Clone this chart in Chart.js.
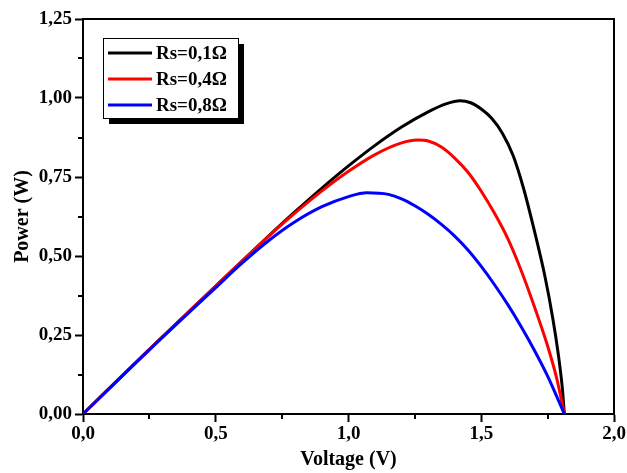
<!DOCTYPE html>
<html>
<head>
<meta charset="utf-8">
<script src="https://cdn.jsdelivr.net/npm/chart.js@4/dist/chart.umd.min.js"></script>
<style>
  html, body { margin: 0; padding: 0; background: #fff; }
  #wrap { width: 627px; height: 473px; }
</style>
</head>
<body>
<div id="wrap"><canvas id="c" width="627" height="473"></canvas></div>
<script>
// data
const labels = ['Rs=0,1\u03A9', 'Rs=0,4\u03A9', 'Rs=0,8\u03A9'];
const colors = ['#000000', '#ff0000', '#0000ff'];

const voltage01 = [0, 0.25, 0.5, 0.6, 0.7, 0.8, 0.9, 1.0, 1.1, 1.2, 1.3, 1.37, 1.42, 1.46, 1.5, 1.54, 1.58, 1.62, 1.66, 1.7, 1.74, 1.77, 1.79, 1.805, 1.813];
const power01 = [0, 0.205, 0.405, 0.485, 0.564, 0.641, 0.715, 0.785, 0.85, 0.908, 0.956, 0.982, 0.991, 0.985, 0.965, 0.935, 0.888, 0.818, 0.712, 0.58, 0.435, 0.30, 0.19, 0.085, 0];

const voltage04 = [0, 0.25, 0.5, 0.6, 0.7, 0.8, 0.9, 1.0, 1.1, 1.2, 1.26, 1.3, 1.35, 1.4, 1.45, 1.5, 1.55, 1.6, 1.65, 1.7, 1.75, 1.785, 1.813];
const power04 = [0, 0.205, 0.405, 0.485, 0.563, 0.637, 0.706, 0.768, 0.821, 0.858, 0.867, 0.864, 0.845, 0.81, 0.765, 0.705, 0.635, 0.555, 0.455, 0.34, 0.215, 0.11, 0];

const voltage08 = [0, 0.25, 0.5, 0.6, 0.7, 0.8, 0.9, 1.0, 1.07, 1.15, 1.2, 1.25, 1.3, 1.35, 1.4, 1.45, 1.5, 1.55, 1.6, 1.65, 1.7, 1.75, 1.813];
const power08 = [0, 0.203, 0.40, 0.478, 0.549, 0.609, 0.656, 0.688, 0.70, 0.695, 0.681, 0.659, 0.632, 0.60, 0.563, 0.519, 0.467, 0.409, 0.346, 0.277, 0.202, 0.12, 0];

const xTicks = [0, 0.5, 1.0, 1.5, 2.0];
const yTicks = [0, 0.25, 0.5, 0.75, 1.0, 1.25];

const FONT = '"Liberation Serif", "Times New Roman", serif';

function pts(xs, ys) {
  return xs.map((x, i) => ({ x: x, y: ys[i] }));
}

// cadre haut/droite + petites graduations
const framePlugin = {
  id: 'frame',
  afterDraw(chart) {
    const ctx = chart.ctx;
    const a = chart.chartArea;
    const xs = chart.scales.x;
    const ys = chart.scales.y;
    ctx.save();
    ctx.strokeStyle = '#000';
    ctx.lineWidth = 2;
    ctx.beginPath();
    ctx.moveTo(a.left, a.top);
    ctx.lineTo(a.right, a.top);
    ctx.lineTo(a.right, a.bottom);
    ctx.stroke();
    ctx.beginPath();
    for (let i = 0; i < xTicks.length - 1; i++) {
      const px = Math.round(xs.getPixelForValue((xTicks[i] + xTicks[i + 1]) / 2));
      ctx.moveTo(px, a.bottom);
      ctx.lineTo(px, a.bottom + 5);
    }
    for (let i = 0; i < yTicks.length - 1; i++) {
      const py = Math.round(ys.getPixelForValue((yTicks[i] + yTicks[i + 1]) / 2));
      ctx.moveTo(a.left, py);
      ctx.lineTo(a.left - 5, py);
    }
    ctx.stroke();
    ctx.restore();
  }
};

// légende encadrée avec ombre
const legendPlugin = {
  id: 'boxLegend',
  afterDraw(chart) {
    const ctx = chart.ctx;
    const x0 = 103, y0 = 38, w = 135, h = 80;
    ctx.save();
    ctx.fillStyle = '#000';
    ctx.fillRect(x0 + 6, y0 + 6, w, h);
    ctx.fillStyle = '#fff';
    ctx.fillRect(x0, y0, w, h);
    ctx.strokeStyle = '#000';
    ctx.lineWidth = 1;
    ctx.strokeRect(x0 + 0.5, y0 + 0.5, w, h);
    ctx.font = 'bold 19px ' + FONT;
    ctx.textBaseline = 'middle';
    chart.data.datasets.forEach((ds, i) => {
      const yy = 53 + i * 26;
      ctx.strokeStyle = ds.borderColor;
      ctx.lineWidth = 3;
      ctx.beginPath();
      ctx.moveTo(108, yy);
      ctx.lineTo(152, yy);
      ctx.stroke();
      ctx.fillStyle = '#000';
      ctx.fillText(ds.label, 156, yy + 1);
    });
    ctx.restore();
  }
};

new Chart(document.getElementById('c'), {
  type: 'scatter',
  data: {
    datasets: [
      { label: labels[0], data: pts(voltage01, power01), borderColor: colors[0], order: 2 },
      { label: labels[1], data: pts(voltage04, power04), borderColor: colors[1], order: 1 },
      { label: labels[2], data: pts(voltage08, power08), borderColor: colors[2], order: 0 }
    ].map(d => Object.assign(d, {
      showLine: true,
      borderWidth: 3,
      pointRadius: 0,
      cubicInterpolationMode: 'monotone',
      fill: false
    }))
  },
  options: {
    responsive: false,
    animation: false,
    layout: { padding: { top: 19, right: 13, left: 0, bottom: 0 } },
    plugins: {
      legend: { display: false },
      tooltip: { enabled: false }
    },
    scales: {
      x: {
        type: 'linear',
        min: 0, max: 2,
        afterFit(scale) { scale.height = 59; },
        afterBuildTicks(scale) { scale.ticks = xTicks.map(v => ({ value: v })); },
        border: { display: true, color: '#000', width: 2 },
        grid: { drawOnChartArea: false, color: '#000', tickLength: 8, tickWidth: 2 },
        ticks: {
          color: '#000',
          padding: 1,
          font: { family: FONT, size: 19, weight: 'bold' },
          callback: v => v.toFixed(1).replace('.', ',')
        },
        title: {
          display: true,
          text: 'Voltage (V)',
          color: '#000',
          padding: { top: 0, bottom: 1 },
          font: { family: FONT, size: 20, weight: 'bold' }
        }
      },
      y: {
        type: 'linear',
        min: 0, max: 1.25,
        afterFit(scale) { scale.width = 83; },
        afterBuildTicks(scale) { scale.ticks = yTicks.map(v => ({ value: v })); },
        border: { display: true, color: '#000', width: 2 },
        grid: { drawOnChartArea: false, color: '#000', tickLength: 8, tickWidth: 2 },
        ticks: {
          color: '#000',
          padding: 3,
          font: { family: FONT, size: 19, weight: 'bold' },
          callback: v => v.toFixed(2).replace('.', ',')
        },
        title: {
          display: true,
          text: 'Power (W)',
          color: '#000',
          padding: { top: 11, bottom: 0 },
          font: { family: FONT, size: 20, weight: 'bold' }
        }
      }
    }
  },
  plugins: [framePlugin, legendPlugin]
});
</script>
</body>
</html>
